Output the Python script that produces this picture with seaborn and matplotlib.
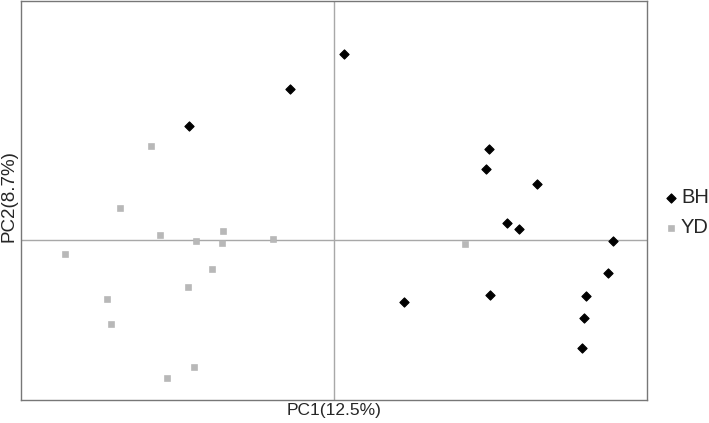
import matplotlib
matplotlib.use("Agg")
import matplotlib.pyplot as plt
import seaborn as sns
import pandas as pd

# ── Data (PC scores) ────────────────────────────────────────
bh_pc1 = [-1.447, -0.44, 0.097, 1.55, 1.517, 2.03, 1.733, 1.853, 2.793, 2.74, 0.70, 1.557, 2.517, 2.497, 2.483]
bh_pc2 = [1.143, 1.513, 1.86, 0.907, 0.707, 0.557, 0.167, 0.107, -0.01, -0.33, -0.62, -0.547, -0.56, -0.777, -1.08]

yd_pc1 = [-1.827, -2.137, -1.743, -1.11, -1.38, -1.117, -0.607, -2.693, -1.223, -1.463, -2.273, -2.233, -1.397, -1.673, 1.307]
yd_pc2 = [0.94, 0.323, 0.05, 0.09, -0.007, -0.027, 0.007, -0.143, -0.29, -0.473, -0.593, -0.843, -1.273, -1.377, -0.037]

groups = ["BH", "YD"]
x_label = "PC1(12.5%)"
y_label = "PC2(8.7%)"

df = pd.DataFrame({
    "PC1": bh_pc1 + yd_pc1,
    "PC2": bh_pc2 + yd_pc2,
    "group": ["BH"] * len(bh_pc1) + ["YD"] * len(yd_pc1),
})

# ── Plot ─────────────────────────────────────────────────────
sns.set_style("white")
plt.rcParams['font.family'] = ['Liberation Sans', 'DejaVu Sans']

fig = plt.figure(figsize=(7.09, 4.23), dpi=100)
ax = fig.add_axes([0.0296, 0.0544, 0.883, 0.9432])

ax.axhline(0, color='#a8a8a8', lw=1, zorder=1)
ax.axvline(0, color='#a8a8a8', lw=1, zorder=1)

sns.scatterplot(data=df[df.group == "BH"], x="PC1", y="PC2",
                color='black', marker='D', s=22, edgecolor='black',
                linewidth=0.8, ax=ax, zorder=3, label="BH")
sns.scatterplot(data=df[df.group == "YD"], x="PC1", y="PC2",
                color='#b8b8b8', marker='s', s=18, edgecolor='#b0b0b0',
                linewidth=0.4, ax=ax, zorder=3, label="YD")

ax.set_xlim(-3.13, 3.13)
ax.set_ylim(-1.60, 2.39)
ax.set_xticks([])
ax.set_yticks([])
ax.set_xlabel(x_label, fontsize=12.5, labelpad=2)
ax.set_ylabel(y_label, fontsize=13.5, labelpad=3)
ax.yaxis.set_label_coords(-0.005, 0.511)

for sp in ax.spines.values():
    sp.set_color('#777777')
    sp.set_linewidth(1)

leg = ax.legend(loc='center left', bbox_to_anchor=(0.932, 0.497),
                bbox_transform=fig.transFigure, frameon=False,
                fontsize=14.5, handletextpad=0.0, labelspacing=0.55,
                handlelength=1.0, borderaxespad=0, borderpad=0)

plt.savefig("out.png", dpi=100)
